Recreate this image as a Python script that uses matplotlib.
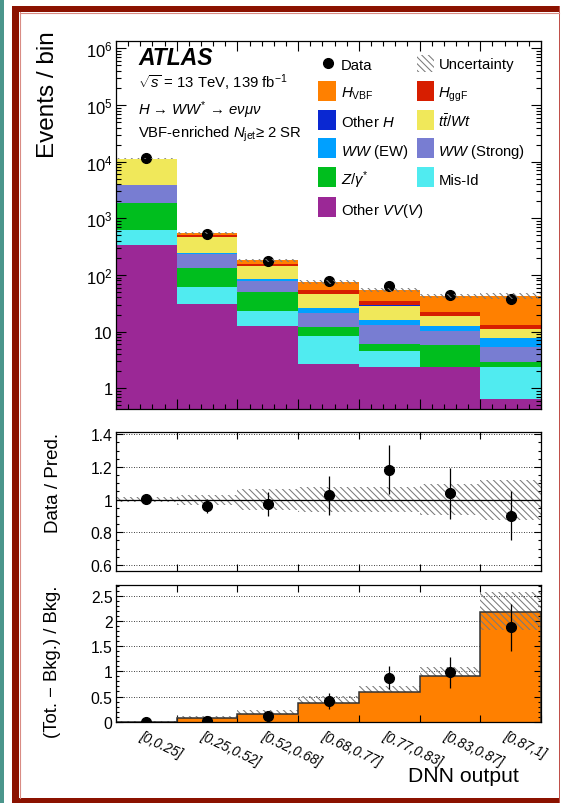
import numpy as np
import matplotlib
matplotlib.use("Agg")
import matplotlib.pyplot as plt
import matplotlib.transforms as mtransforms
from matplotlib.patches import Rectangle
from matplotlib.ticker import FixedLocator, LogLocator, MultipleLocator, NullFormatter, FuncFormatter

plt.rcParams["font.family"] = ["Liberation Sans", "DejaVu Sans"]
plt.rcParams["mathtext.fontset"] = "custom"
plt.rcParams["mathtext.rm"] = "Liberation Sans"
plt.rcParams["mathtext.it"] = "Liberation Sans:italic"
plt.rcParams["mathtext.bf"] = "Liberation Sans:bold"
plt.rcParams["hatch.color"] = "#7a7a7a"
plt.rcParams["hatch.linewidth"] = 0.75

# DNN output bins
bin_labels = ["[0,0.25]", "[0.25,0.52]", "[0.52,0.68]", "[0.68,0.77]",
              "[0.77,0.83]", "[0.83,0.87]", "[0.87,1]"]

# predicted yields per bin (stacked bottom to top)
other_vv = [337, 31, 12.7, 2.68, 2.37, 2.35, 0.65]
mis_id = [290, 30, 10.4, 5.58, 2.18, 0.05, 1.75]
z_gamma = [1223, 70, 27.4, 3.94, 1.49, 3.47, 0.55]
ww_strong = [2000, 103, 28.5, 9.3, 7.16, 4.23, 2.4]
ww_ew = [60, 6, 5.7, 4.3, 2.8, 2.3, 2.36]
top_wt = [7380, 232, 57.3, 19.7, 12.6, 6.2, 3.39]
other_h = [5, 1, 0.5, 0.3, 0.3, 0.3, 0.2]
h_ggf = [60, 42, 15.5, 9.0, 5.8, 3.5, 1.9]
h_vbf = [18, 34, 24.2, 20.3, 20.2, 20.3, 28.8]

# observed events
data = [11400, 527, 177.5, 77, 65, 44.3, 37.9]
data_err = [107, 23, 13.3, 8.8, 8.1, 6.7, 6.2]

# relative uncertainty on the total prediction
pred_unc = [0.013, 0.03, 0.063, 0.077, 0.075, 0.097, 0.122]
# uncertainty band shown in the (Tot. - Bkg.) / Bkg. panel
sb_band_lo = [0.0, 0.067, 0.153, 0.371, 0.583, 0.907, 1.81]
sb_band_hi = [0.005, 0.119, 0.232, 0.504, 0.708, 1.08, 2.57]

C_VV, C_MIS, C_Z = "#9b2896", "#50ebf0", "#00be1e"
C_WWS, C_WWEW, C_TOP = "#787dd2", "#00a0ff", "#f0e85a"
C_OH, C_GGF, C_VBF = "#0a28d2", "#d71e00", "#ff8000"
HATCH = "\\\\\\\\\\"
HATCH_COL = "#7a7a7a"

W, H = 562.0, 804.0
fig = plt.figure(figsize=(W / 100, H / 100), dpi=100)


def box(left, top, right, bottom):
    return [left / W, 1 - bottom / H, (right - left) / W, (bottom - top) / H]


ax1 = fig.add_axes(box(116, 42, 541, 410))
ax2 = fig.add_axes(box(116, 433, 541, 571.5))
ax3 = fig.add_axes(box(116, 586, 541, 723))

n = len(bin_labels)
x = np.arange(n)
edges = np.arange(n + 1)

# ---- main panel: stacked histogram
stack = [(other_vv, C_VV), (mis_id, C_MIS), (z_gamma, C_Z), (ww_strong, C_WWS),
         (ww_ew, C_WWEW), (top_wt, C_TOP), (other_h, C_OH), (h_ggf, C_GGF),
         (h_vbf, C_VBF)]
base = np.full(n, 1e-3)
for vals, col in stack:
    ax1.bar(x, vals, bottom=base, width=1.0, align="edge", color=col,
            linewidth=0, zorder=1)
    base = base + np.array(vals, dtype=float)

total = base - 1e-3
bkg = total - np.array(h_vbf)
unc = np.array(pred_unc)
dat = np.array(data, dtype=float)
derr = np.array(data_err, dtype=float)

ax1.errorbar(x + 0.5, dat, yerr=derr, fmt="o", color="black", ms=7,
             elinewidth=0.9, capsize=0, zorder=3)
ax1.bar(x, 2 * unc * total, bottom=total * (1 - unc), width=1.0, align="edge",
        facecolor="none", edgecolor=HATCH_COL, hatch=HATCH, linewidth=0, zorder=4)

ax1.set_yscale("log", nonpositive="clip")
ax1.set_ylim(0.43, 1.35e6)
ax1.set_xlim(0, n)


def log_label(v, pos):
    if v == 1:
        return "1"
    if v == 10:
        return "10"
    return r"$10^{%d}$" % int(round(np.log10(v)))


ax1.yaxis.set_major_locator(FixedLocator([1, 10, 1e2, 1e3, 1e4, 1e5, 1e6]))
ax1.yaxis.set_major_formatter(FuncFormatter(log_label))
ax1.yaxis.set_minor_locator(LogLocator(base=10, subs=np.arange(2, 10), numticks=20))
ax1.yaxis.set_minor_formatter(NullFormatter())
ax1.xaxis.set_major_locator(FixedLocator(edges))
ax1.xaxis.set_minor_locator(MultipleLocator(0.2))
ax1.set_xticklabels([])
ax1.tick_params(which="both", direction="in", top=True, right=True, width=0.8)
ax1.tick_params(which="major", length=7.2)
ax1.tick_params(which="minor", length=3.6)
ax1.tick_params(axis="y", labelsize=12, pad=2.5)

# ---- ratio panel: data / prediction
ratio = dat / total
ax2.bar(x, 2 * unc, bottom=1 - unc, width=1.0, align="edge", facecolor="none",
        edgecolor=HATCH_COL, hatch=HATCH, linewidth=0, zorder=1)
ax2.axhline(1.0, color="black", lw=0.9, zorder=2)
for yv in [0.6, 0.8, 1.2, 1.4]:
    ax2.axhline(yv, color="black", lw=0.6, ls=(0, (1, 2)), zorder=1)
ax2.errorbar(x + 0.5, ratio, yerr=derr / total, fmt="o", color="black", ms=7,
             elinewidth=0.9, capsize=0, zorder=3)
ax2.set_xlim(0, n)
ax2.set_ylim(0.566, 1.414)
ax2.yaxis.set_major_locator(FixedLocator([0.6, 0.8, 1.0, 1.2, 1.4]))
ax2.set_yticklabels(["0.6", "0.8", "1", "1.2", "1.4"])
ax2.yaxis.set_minor_locator(MultipleLocator(0.05))
ax2.xaxis.set_major_locator(FixedLocator(edges))
ax2.set_xticklabels([])

# ---- signal panel: (Tot. - Bkg.) / Bkg.
sig = np.array(h_vbf) / bkg
sb_data = (dat - bkg) / bkg
lo = np.array(sb_band_lo)
hi = np.array(sb_band_hi)
for yv in [0, 0.5, 1, 1.5, 2, 2.5]:
    ax3.axhline(yv, color="black", lw=0.6, ls=(0, (1, 2)), zorder=0.5)
ax3.bar(x, sig, width=1.0, align="edge", color=C_VBF, linewidth=0, zorder=1)
ax3.bar(x, hi - lo, bottom=lo, width=1.0, align="edge", facecolor="none",
        edgecolor=HATCH_COL, hatch=HATCH, linewidth=0, zorder=2)
ax3.stairs(sig, edges, color="#333333", lw=1.1, zorder=2.5)
ax3.errorbar(x + 0.5, sb_data, yerr=derr / bkg, fmt="o", color="black", ms=7,
             elinewidth=0.9, capsize=0, zorder=3)
ax3.set_xlim(0, n)
ax3.set_ylim(-0.005, 2.71)
ax3.yaxis.set_major_locator(FixedLocator([0, 0.5, 1, 1.5, 2, 2.5]))
ax3.set_yticklabels(["0", "0.5", "1", "1.5", "2", "2.5"])
ax3.yaxis.set_minor_locator(MultipleLocator(0.1))
ax3.xaxis.set_major_locator(FixedLocator(edges))
ax3.set_xticklabels([])

for ax in (ax2, ax3):
    ax.tick_params(which="both", direction="in", top=True, right=True, width=0.8)
    ax.tick_params(which="major", length=5.0)
    ax.tick_params(which="minor", length=2.5)
    ax.tick_params(axis="y", labelsize=11.3, pad=2.5)

for ax in (ax1, ax2, ax3):
    for sp in ax.spines.values():
        sp.set_linewidth(0.9)

# rotated bin labels under the last panel
lab_trans = mtransforms.offset_copy(
    mtransforms.blended_transform_factory(ax3.transData, ax3.transAxes),
    fig=fig, x=-3, y=-6, units="dots")
for i, lab in enumerate(bin_labels):
    ax3.text(i + 0.5, 0, lab, transform=lab_trans, rotation=-25,
             rotation_mode="anchor", ha="left", va="top", fontsize=9.8,
             fontstyle="italic")

# ---- overlay in pixel coordinates: frame, labels and legend
ov = fig.add_axes([0, 0, 1, 1], zorder=10)
ov.set_xlim(0, W)
ov.set_ylim(H, 0)
ov.axis("off")

ov.add_patch(Rectangle((0, 0), 4.3, H, color="#4b968c", lw=0))
RED = "#8b1200"
ov.add_patch(Rectangle((12, 7.3), 548, 6, color=RED, lw=0))
ov.add_patch(Rectangle((12, 7.3), 7, H, color=RED, lw=0))
ov.add_patch(Rectangle((12, 799.3), 548, 5, color=RED, lw=0))
ov.add_patch(Rectangle((558.8, 7.3), 1.6, H, color="#c0504a", lw=0))
ov.plot([19.5, 19.5], [13.3, 799.3], color="#d98c84", lw=0.8)
ov.plot([19.5, 558.8], [13.8, 13.8], color="#d98c84", lw=0.8)

ov.text(48, 31.7, "Events / bin", rotation=90, ha="center", va="top", fontsize=17.5)
ov.text(53, 433, "Data / Pred.", rotation=90, ha="center", va="top", fontsize=13.5)
ov.text(53, 586, "(Tot. \u2212 Bkg.) / Bkg.", rotation=90, ha="center", va="top",
        fontsize=13.3)
ov.text(519, 782, "DNN output", ha="right", va="baseline", fontsize=15.2)

TXT = 10.7
ov.text(138, 65, "ATLAS", fontsize=16.5, fontweight="bold", fontstyle="italic",
        va="baseline")
ov.text(138, 88.3, r"$\sqrt{s}$ = 13 TeV, 139 fb$^{\mathregular{-1}}$",
        fontsize=TXT, va="baseline")
ov.text(138, 115, "$H$ \u2192 $WW^{*}$ \u2192 $e\\nu\\mu\\nu$",
        fontsize=TXT, va="baseline")
ov.text(138, 137.3, "VBF-enriched $N_{\\mathrm{jet}}$\u2265 2 SR",
        fontsize=TXT, va="baseline")

# legend
ov.plot([327.5], [64.3], "o", color="black", ms=7)
ov.text(341, 69.5, "Data", fontsize=TXT, va="baseline")
ov.add_patch(Rectangle((417, 56), 17, 17.3, facecolor="none", edgecolor=HATCH_COL,
                       hatch=HATCH, lw=0))
ov.text(438.5, 69.5, "Uncertainty", fontsize=TXT, va="baseline")

left_col = [(C_VBF, r"$H_{\mathrm{VBF}}$"), (C_OH, r"Other $H$"),
            (C_WWEW, r"$WW$ (EW)"), (C_Z, r"$Z/\gamma^{*}$"),
            (C_VV, r"Other $VV(V)$")]
right_col = [(C_GGF, r"$H_{\mathrm{ggF}}$"), (C_TOP, r"$t\bar{t}/Wt$"),
             (C_WWS, r"$WW$ (Strong)"), (C_MIS, "Mis-Id")]
rows = [91.7, 121, 149.3, 178.3, 208.3]
for (col, lab), yc in zip(left_col, rows):
    ov.add_patch(Rectangle((318.3, yc - 10), 17.7, 20, facecolor=col, lw=0))
    ov.text(341, yc + 6.3, lab, fontsize=TXT, va="baseline")
for (col, lab), yc in zip(right_col, rows):
    ov.add_patch(Rectangle((416.7, yc - 10), 17.5, 20, facecolor=col, lw=0))
    ov.text(438.5, yc + 6.3, lab, fontsize=TXT, va="baseline")

fig.savefig("out.png", dpi=100)
